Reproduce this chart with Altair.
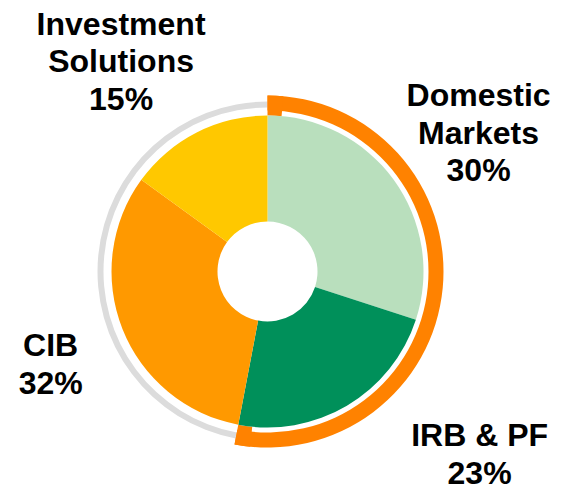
import math
import altair as alt
import pandas as pd

# ---- data -------------------------------------------------------------
categories = ["Domestic Markets", "IRB & PF", "CIB", "Investment Solutions"]
shares = [30, 23, 32, 15]
label_names = ["Domestic\nMarkets", "IRB & PF", "CIB", "Investment\nSolutions"]
slice_colors = ["#B9DFBD", "#00905A", "#FF9900", "#FFC800"]

ring_groups = ["Domestic Markets + IRB & PF", "CIB + Investment Solutions"]
ring_colors = ["#FF8200", "#DCDCDC"]

# ---- tables built from the arrays -------------------------------------
df = pd.DataFrame({"category": categories, "share": shares,
                   "color": slice_colors, "name": label_names})
df["end"] = df["share"].cumsum()
df["start"] = df["end"] - df["share"]
df["mid"] = (df["start"] + df["end"]) / 2
df["label"] = df["name"] + "\n" + df["share"].astype(str) + "%"

ring_shares = [sum(shares[:2]), sum(shares[2:])]
ring = pd.DataFrame({"group": ring_groups, "share": ring_shares, "color": ring_colors})
ring["end"] = ring["share"].cumsum()
ring["start"] = ring["end"] - ring["share"]

# bracket caps at both ends of the highlighted (orange) ring
cap_w = 15 / (2 * math.pi * 166) * 100
o_start, o_end = float(ring.loc[0, "start"]), float(ring.loc[0, "end"])
caps = pd.DataFrame({"start": [o_start, o_end - cap_w], "end": [o_start + cap_w, o_end]})

# ---- layout ----------------------------------------------------------
CX, CY = 259.5, 263.5
theta_scale = alt.Scale(domain=[0, 100], range=[0, 2 * math.pi])
center = dict(x=alt.value(CX), y=alt.value(CY))

pie = alt.Chart(df).mark_arc(innerRadius=50, outerRadius=156).encode(
    theta=alt.Theta("start:Q", scale=theta_scale),
    theta2="end:Q",
    color=alt.Color("color:N", scale=None),
    **center,
)

gray_ring = alt.Chart(ring).transform_filter(
    alt.datum.group == ring_groups[1]
).mark_arc(innerRadius=164, outerRadius=170).encode(
    theta=alt.Theta("start:Q", scale=theta_scale),
    theta2="end:Q",
    color=alt.Color("color:N", scale=None),
    **center,
)

orange_ring = alt.Chart(ring).transform_filter(
    alt.datum.group == ring_groups[0]
).mark_arc(innerRadius=161, outerRadius=176).encode(
    theta=alt.Theta("start:Q", scale=theta_scale),
    theta2="end:Q",
    color=alt.Color("color:N", scale=None),
    **center,
)

cap_layer = alt.Chart(caps).mark_arc(
    innerRadius=156, outerRadius=176, color=ring_colors[0]
).encode(
    theta=alt.Theta("start:Q", scale=theta_scale),
    theta2="end:Q",
    **center,
)

label_offsets = {
    "Domestic Markets": (25, -30),
    "IRB & PF": (95, -23),
    "CIB": (-3, 0),
    "Investment Solutions": (-42, -32),
}

text_layers = []
for cat in categories:
    dx, dy = label_offsets[cat]
    text_layers.append(
        alt.Chart(df).transform_filter(alt.datum.category == cat).mark_text(
            radius=230, dx=dx, dy=dy, align="center", baseline="alphabetic",
            font="Liberation Sans", fontWeight="bold", fontSize=32,
            lineHeight=37.5, lineBreak="\n", color="#000000",
        ).encode(
            theta=alt.Theta("mid:Q", scale=theta_scale),
            text="label:N",
            **center,
        )
    )

chart = alt.layer(gray_ring, orange_ring, cap_layer, pie, *text_layers).properties(
    width=555, height=478, padding=0, autosize="none", background="white"
).configure_view(stroke=None)

chart.save("out.html", embed_options={"renderer": "svg", "actions": False})
